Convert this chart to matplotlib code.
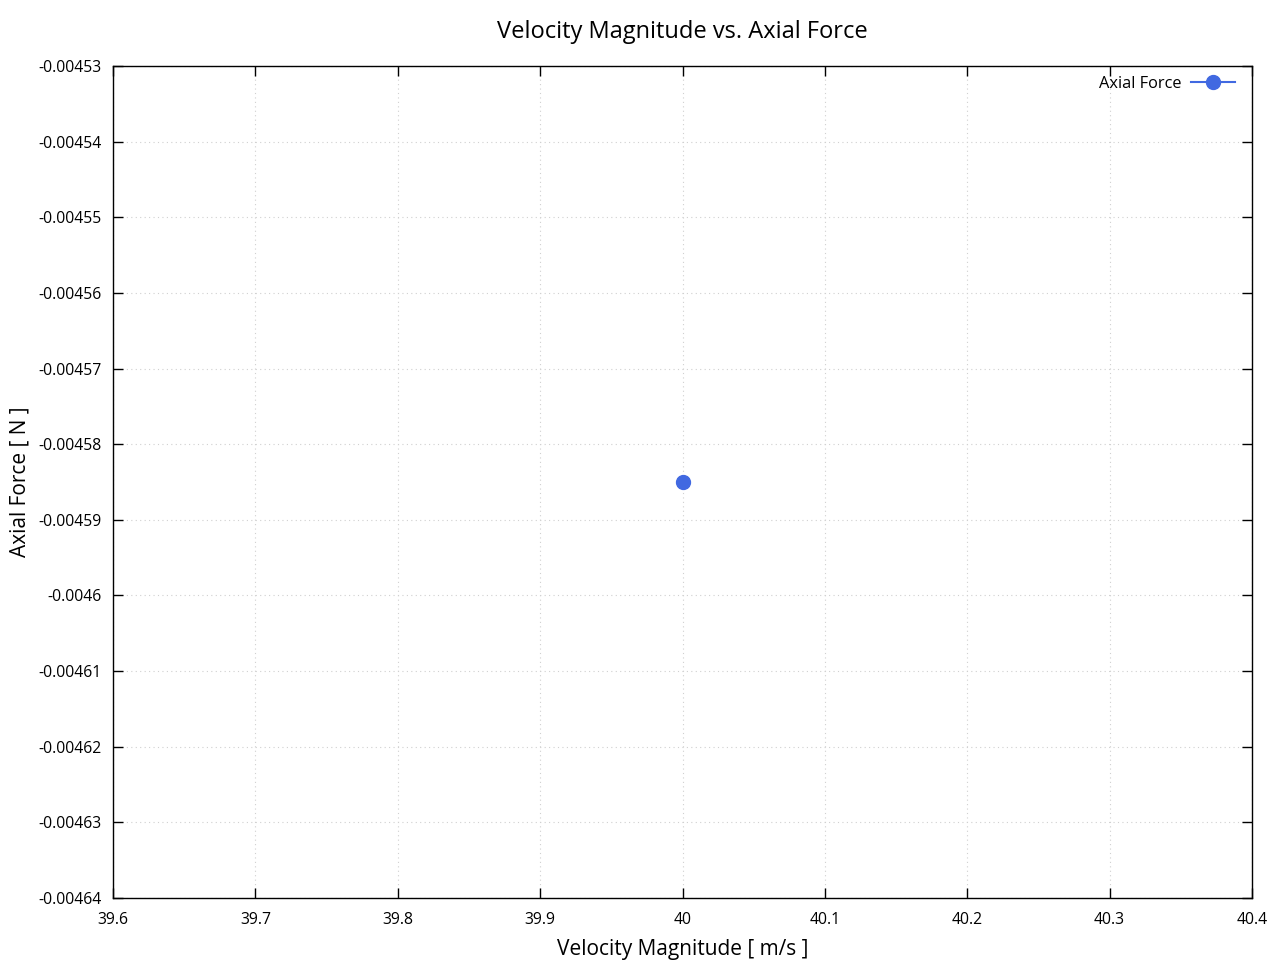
import matplotlib
matplotlib.use("Agg")
import matplotlib.pyplot as plt

plt.rcParams['font.family'] = ['Open Sans', 'DejaVu Sans']

velocity = [40.0]
axial_force = [-0.004585]

xticks = [39.6, 39.7, 39.8, 39.9, 40.0, 40.1, 40.2, 40.3, 40.4]
xtick_labels = ["39.6", "39.7", "39.8", "39.9", "40", "40.1", "40.2", "40.3", "40.4"]
yticks = [-0.00453, -0.00454, -0.00455, -0.00456, -0.00457, -0.00458,
          -0.00459, -0.0046, -0.00461, -0.00462, -0.00463, -0.00464]
ytick_labels = ["-0.00453", "-0.00454", "-0.00455", "-0.00456", "-0.00457", "-0.00458",
                "-0.00459", "-0.0046", "-0.00461", "-0.00462", "-0.00463", "-0.00464"]

fig = plt.figure(figsize=(12.8, 9.6), dpi=100)
ax = fig.add_axes([113/1280, 62/960, (1252-113)/1280, (898-66)/960])

ax.plot(velocity, axial_force, color='#4169E1', marker='o', markersize=10,
        linewidth=1.5, label='Axial Force')

ax.set_xlim(39.6, 40.4)
ax.set_ylim(-0.00464, -0.00453)
ax.set_xticks(xticks)
ax.set_xticklabels(xtick_labels)
ax.set_yticks(yticks)
ax.set_yticklabels(ytick_labels)

ax.tick_params(direction='in', top=True, right=True, length=7, width=1,
               labelsize=11.3)
ax.tick_params(axis='x', pad=10)
ax.tick_params(axis='y', pad=8)
for s in ax.spines.values():
    s.set_linewidth(1)

ax.grid(True, color='#d0d0d0', linestyle=(0, (1, 3)), linewidth=0.8)

ax.set_xlabel('Velocity Magnitude [ m/s ]', fontsize=15, labelpad=8)
ax.set_ylabel('Axial Force [ N ]', fontsize=15, labelpad=6)
ax.set_title('Velocity Magnitude vs. Axial Force', fontsize=17, pad=20)

leg = ax.legend(loc='upper right', bbox_to_anchor=(1 - 7/1139, 1),
                frameon=False, markerfirst=False,
                fontsize=11.8, handlelength=2.7, borderaxespad=0.2,
                handletextpad=0.6)

fig.savefig('out.png', dpi=100)
